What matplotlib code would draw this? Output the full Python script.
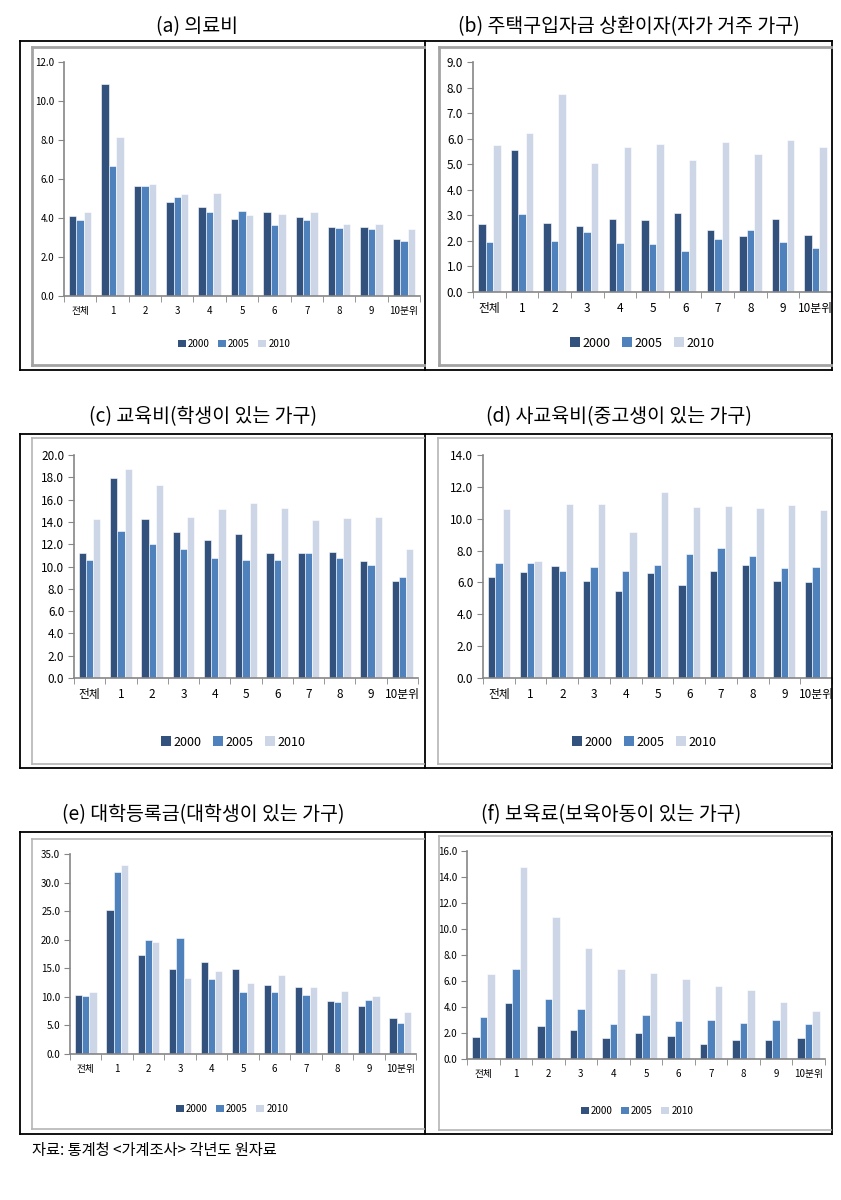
import matplotlib
matplotlib.use("Agg")
import matplotlib.pyplot as plt
from matplotlib.patches import Rectangle, Patch
from matplotlib.lines import Line2D
import numpy as np

plt.rcParams['font.family'] = ['Noto Sans CJK KR', 'DejaVu Sans']

categories = ['전체', '1', '2', '3', '4', '5', '6', '7', '8', '9', '10분위']
years = ['2000', '2005', '2010']

# (a) 의료비
a_2000 = [4.12, 10.85, 5.66, 4.80, 4.58, 3.97, 4.29, 4.07, 3.56, 3.56, 2.91]
a_2005 = [3.90, 6.68, 5.66, 5.09, 4.29, 4.36, 3.62, 3.90, 3.50, 3.44, 2.80]
a_2010 = [4.29, 8.17, 5.76, 5.21, 5.26, 4.14, 4.21, 4.29, 3.69, 3.69, 3.45]
# (b) 주택구입자금 상환이자
b_2000 = [2.66, 5.56, 2.70, 2.57, 2.86, 2.83, 3.09, 2.41, 2.20, 2.86, 2.24]
b_2005 = [1.94, 3.05, 2.00, 2.34, 1.90, 1.86, 1.60, 2.07, 2.41, 1.94, 1.73]
b_2010 = [5.74, 6.24, 7.73, 5.04, 5.68, 5.81, 5.17, 5.86, 5.39, 5.95, 5.68]
# (c) 교육비
c_2000 = [11.2, 17.9, 14.25, 13.05, 12.34, 12.93, 11.2, 11.2, 11.32, 10.5, 8.68]
c_2005 = [10.57, 13.14, 12.0, 11.6, 10.8, 10.6, 10.6, 11.2, 10.8, 10.09, 9.07]
c_2010 = [14.25, 18.74, 17.3, 14.46, 15.18, 15.69, 15.27, 14.16, 14.37, 14.46, 11.6]
# (d) 사교육비
d_2000 = [6.32, 6.65, 7.03, 6.09, 5.46, 6.59, 5.82, 6.72, 7.09, 6.09, 6.03]
d_2005 = [7.24, 7.24, 6.74, 6.95, 6.74, 7.09, 7.80, 8.16, 7.66, 6.88, 6.95]
d_2010 = [10.59, 7.36, 10.94, 10.94, 9.16, 11.65, 10.73, 10.79, 10.65, 10.86, 10.52]
# (e) 대학등록금
e_2000 = [10.33, 25.2, 17.3, 14.9, 16.04, 14.9, 12.08, 11.73, 9.28, 8.4, 6.3]
e_2005 = [10.15, 31.85, 19.95, 20.3, 13.1, 10.85, 10.85, 10.33, 9.1, 9.45, 5.43]
e_2010 = [10.8, 33.1, 19.6, 13.3, 14.5, 12.4, 13.8, 11.73, 11.0, 10.15, 7.35]
# (f) 보육료
f_2000 = [1.66, 4.33, 2.51, 2.23, 1.59, 2.00, 1.74, 1.13, 1.48, 1.43, 1.59]
f_2005 = [3.23, 6.89, 4.58, 3.87, 2.69, 3.40, 2.94, 3.02, 2.76, 3.02, 2.69]
f_2010 = [6.53, 14.75, 10.9, 8.53, 6.96, 6.60, 6.12, 5.61, 5.33, 4.40, 3.71]

titles = ['(a) 의료비', '(b) 주택구입자금 상환이자(자가 거주 가구)',
          '(c) 교육비(학생이 있는 가구)', '(d) 사교육비(중고생이 있는 가구)',
          '(e) 대학등록금(대학생이 있는 가구)', '(f) 보육료(보육아동이 있는 가구)']
source_note = '자료: 통계청 <가계조사> 각년도 원자료'

colors = ['#32527D', '#4F81BD', '#CDD6E6']

W, H = 841, 1200
fig = plt.figure(figsize=(W / 100, H / 100), dpi=100)


def rect(x0, y0, x1, y1):
    return [x0 / W, 1 - y1 / H, (x1 - x0) / W, (y1 - y0) / H]


def fx(x):
    return x / W


def fy(y):
    return 1 - y / H


def hline(x0, x1, y, color='black', lw=1.3):
    fig.add_artist(Line2D([fx(x0), fx(x1)], [fy(y), fy(y)], color=color, lw=lw,
                          transform=fig.transFigure))


def vline(x, y0, y1, color='black', lw=1.3):
    fig.add_artist(Line2D([fx(x), fx(x)], [fy(y0), fy(y1)], color=color, lw=lw,
                          transform=fig.transFigure))


# outer black boxes per row
for (top, bot) in [(41, 370), (434, 768), (832, 1134)]:
    hline(20, 832, top)
    hline(20, 832, bot)
    vline(20, top, bot)
    vline(832, top, bot)
    vline(425, top, bot)

# inner gray chart frames (right edges are cut by the black frame)
frames = [
    (32, 47, 424, 365, '#a3a3a3', 2.0),
    (439, 47, 831, 365, '#a3a3a3', 2.0),
    (32, 438, 424, 764, '#b5b5b5', 1.2),
    (438, 438, 831, 764, '#b5b5b5', 1.2),
    (32, 839, 424, 1129, '#b5b5b5', 1.2),
    (439, 836, 831, 1130, '#b5b5b5', 1.2),
]
for x0, y0, x1, y1, c, lw in frames:
    hline(x0, x1, y0, c, lw)
    hline(x0, x1, y1, c, lw)
    vline(x0, y0, y1, c, lw)

panels = [
    dict(data=(a_2000, a_2005, a_2010), box=(64, 62, 420, 296), ymax=12, step=2,
         tick_fs=7, leg=(234, 344), leg_fs=7, title=(197, 27)),
    dict(data=(b_2000, b_2005, b_2010), box=(473, 62, 832, 292), ymax=9, step=1,
         tick_fs=8.5, leg=(642, 343), leg_fs=9, title=(629, 27)),
    dict(data=(c_2000, c_2005, c_2010), box=(74, 455, 418, 678), ymax=20, step=2,
         tick_fs=8.5, leg=(233, 742), leg_fs=9, title=(203, 417)),
    dict(data=(d_2000, d_2005, d_2010), box=(483, 455, 832, 678), ymax=14, step=2,
         tick_fs=8.5, leg=(644, 742), leg_fs=9, title=(619, 417)),
    dict(data=(e_2000, e_2005, e_2010), box=(70, 854, 416, 1054), ymax=35, step=5,
         tick_fs=7, leg=(232, 1109), leg_fs=7, title=(203, 815)),
    dict(data=(f_2000, f_2005, f_2010), box=(467, 851, 825, 1059), ymax=16, step=2,
         tick_fs=7, leg=(637, 1111), leg_fs=7, title=(611, 815)),
]

x = np.arange(len(categories))
bw = 0.23
for p, title in zip(panels, titles):
    ax = fig.add_axes(rect(*p['box']))
    ax.set_facecolor('none')
    for i, (vals, c) in enumerate(zip(p['data'], colors)):
        ax.bar(x + (i - 1) * bw, vals, width=bw, color=c, edgecolor='white',
               linewidth=0.4, label=years[i])
    ax.set_xlim(-0.5, len(categories) - 0.5)
    ax.set_ylim(0, p['ymax'])
    ticks = np.arange(0, p['ymax'] + 0.001, p['step'])
    ax.set_yticks(ticks)
    ax.set_yticklabels([f'{t:.1f}' for t in ticks], fontsize=p['tick_fs'])
    ax.set_xticks(x)
    ax.set_xticklabels(categories, fontsize=p['tick_fs'])
    ax.set_xticks(np.arange(-0.5, len(categories), 1), minor=True)
    ax.tick_params(axis='x', which='major', length=0, pad=7)
    ax.tick_params(axis='x', which='minor', length=4, color='#868686', direction='out')
    ax.tick_params(axis='y', length=4, color='#868686', direction='out', pad=3)
    for s in ['top', 'right']:
        ax.spines[s].set_visible(False)
    for s in ['left', 'bottom']:
        ax.spines[s].set_color('#868686')
        ax.spines[s].set_linewidth(1.2)
    handles = [Patch(facecolor=c, edgecolor='none') for c in colors]
    fig.legend(handles, years, loc='center', ncol=3, frameon=False,
               bbox_to_anchor=(fx(p['leg'][0]), fy(p['leg'][1])),
               bbox_transform=fig.transFigure, fontsize=p['leg_fs'],
               handlelength=0.8, handleheight=0.8, handletextpad=0.2,
               columnspacing=0.9)
    fig.text(fx(p['title'][0]), fy(p['title'][1]), title, ha='center', va='center',
             fontsize=14)

fig.text(fx(32), fy(1150), source_note, ha='left', va='center', fontsize=11)

fig.savefig('out.png', dpi=100, facecolor='white')
